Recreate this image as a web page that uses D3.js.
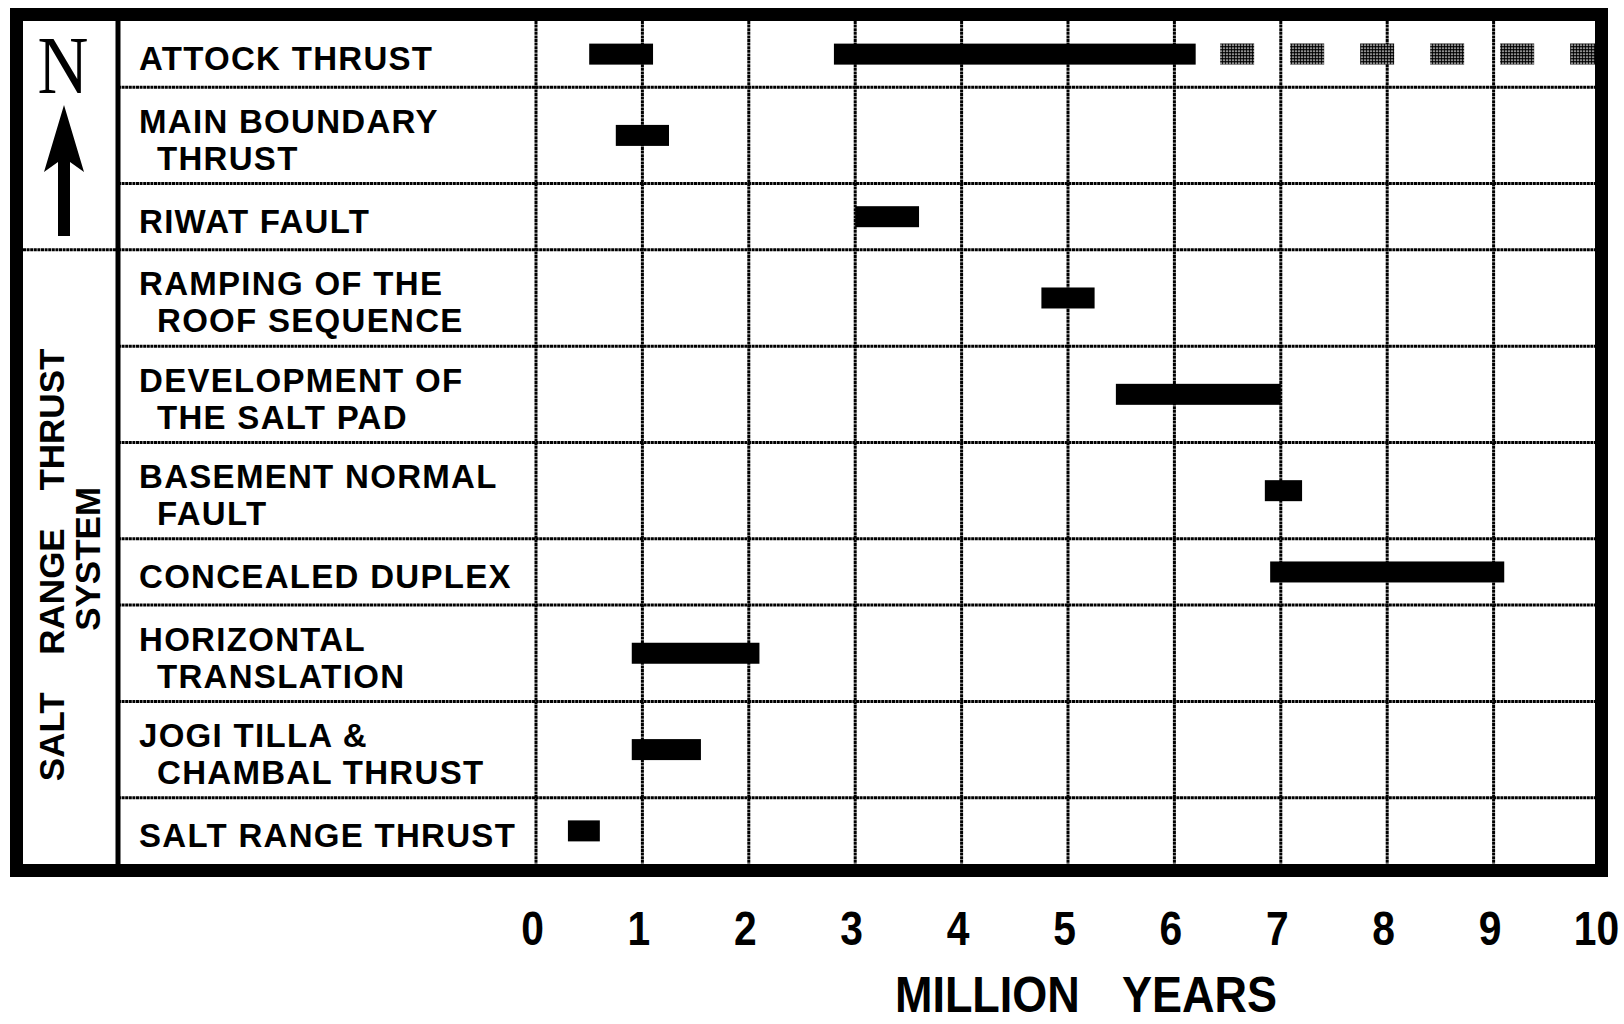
<!DOCTYPE html>
<html>
<head>
<meta charset="utf-8">
<script src="https://cdn.jsdelivr.net/npm/d3@7"></script>
<style>
  body { margin: 0; background: #fff; }
  text { font-family: "Liberation Sans", Arial, sans-serif; font-weight: bold; fill: #000; }
</style>
</head>
<body>
<div id="chart"></div>
<script>
// Fault rows, top to bottom, with the label lines as printed
var faults = ["ATTOCK THRUST", "MAIN BOUNDARY THRUST", "RIWAT FAULT", "RAMPING OF THE ROOF SEQUENCE",
  "DEVELOPMENT OF THE SALT PAD", "BASEMENT NORMAL FAULT", "CONCEALED DUPLEX",
  "HORIZONTAL TRANSLATION", "JOGI TILLA & CHAMBAL THRUST", "SALT RANGE THRUST"];
var faultLines = [["ATTOCK THRUST"], ["MAIN BOUNDARY", "THRUST"], ["RIWAT FAULT"],
  ["RAMPING OF THE", "ROOF SEQUENCE"], ["DEVELOPMENT OF", "THE SALT PAD"],
  ["BASEMENT NORMAL", "FAULT"], ["CONCEALED DUPLEX"], ["HORIZONTAL", "TRANSLATION"],
  ["JOGI TILLA &", "CHAMBAL THRUST"], ["SALT RANGE THRUST"]];

// Periods of activity (million years)
var barFault = ["ATTOCK THRUST", "ATTOCK THRUST", "MAIN BOUNDARY THRUST", "RIWAT FAULT",
  "RAMPING OF THE ROOF SEQUENCE", "DEVELOPMENT OF THE SALT PAD", "BASEMENT NORMAL FAULT",
  "CONCEALED DUPLEX", "HORIZONTAL TRANSLATION", "JOGI TILLA & CHAMBAL THRUST", "SALT RANGE THRUST"];
var barStart = [0.5, 2.8, 0.75, 3.0, 4.75, 5.45, 6.85, 6.9, 0.9, 0.9, 0.3];
var barEnd   = [1.1, 6.2, 1.25, 3.6, 5.25, 7.0, 7.2, 9.1, 2.1, 1.55, 0.6];

// Uncertain (stippled) continuation
var dashFault = ["ATTOCK THRUST"];
var dashStart = [6.43];
var dashEnd   = [10];

var ticks = [0, 1, 2, 3, 4, 5, 6, 7, 8, 9, 10];
var groupLabel = ["SALT RANGE THRUST", "SYSTEM"];
var northRows = 3;   // rows covered by the north-arrow box
var axisTitle = "MILLION YEARS";

drawchart();

function drawchart() {
  var svg = d3.select("#chart")
              .append("svg")
              .attr("width", 1624)
              .attr("height", 1024);

  svg.append("rect").attr("width", 1624).attr("height", 1024).attr("fill", "#fff");

  // stipple texture for the uncertain segment
  var pat = svg.append("defs").append("pattern")
      .attr("id", "stipple")
      .attr("patternUnits", "userSpaceOnUse")
      .attr("width", 3).attr("height", 3);
  pat.append("rect").attr("width", 3).attr("height", 3).attr("fill", "#fff");
  pat.append("circle").attr("cx", 1.5).attr("cy", 1.5).attr("r", 1.5).attr("fill", "#000");

  var frame = {left: 23, top: 21, right: 1595, bottom: 864},
      divider = 118,
      plotLeft = 536, plotRight = 1600;

  // x scale
  var x = d3.scaleLinear().domain([0, 10]).range([plotLeft, plotRight]);

  // row heights follow the number of label lines
  var units = faultLines.map(function(l) { return 36 + 30 * l.length; });
  var cum = [0];
  units.forEach(function(u, i) { cum.push(cum[i] + u); });
  var y = d3.scaleLinear().domain([0, cum[cum.length - 1]]).range([frame.top, frame.bottom]);
  var rowTop = {}, rowMid = {};
  faults.forEach(function(f, i) {
    rowTop[f] = y(cum[i]);
    rowMid[f] = (y(cum[i]) + y(cum[i + 1])) / 2;
  });

  var grid = function(sel) {
    return sel.attr("stroke", "#000").attr("stroke-width", 3).attr("stroke-dasharray", "3,0.6");
  };

  // vertical grid lines
  svg.append("g").selectAll("line")
    .data(ticks)
    .enter().append("line")
      .attr("x1", function(d) { return x(d); })
      .attr("x2", function(d) { return x(d); })
      .attr("y1", frame.top)
      .attr("y2", frame.bottom)
      .call(grid);

  // horizontal row lines
  svg.append("g").selectAll("line")
    .data(faults.slice(1))
    .enter().append("line")
      .attr("x1", divider)
      .attr("x2", plotRight)
      .attr("y1", function(d) { return rowTop[d]; })
      .attr("y2", function(d) { return rowTop[d]; })
      .call(grid);

  // separator in the left column
  svg.append("line")
    .attr("x1", frame.left).attr("x2", divider)
    .attr("y1", rowTop[faults[northRows]]).attr("y2", rowTop[faults[northRows]])
    .call(grid);

  // solid divider between the side column and the labels
  svg.append("line")
    .attr("x1", divider).attr("x2", divider)
    .attr("y1", frame.top).attr("y2", frame.bottom)
    .attr("stroke", "#000").attr("stroke-width", 5);

  // fault labels
  var labels = svg.append("g").selectAll("text")
    .data(faults)
    .enter().append("text")
      .attr("font-size", 33)
      .style("letter-spacing", "1.3px");
  labels.each(function(f, i) {
    var lines = faultLines[i], n = lines.length;
    d3.select(this).selectAll("tspan")
      .data(lines)
      .enter().append("tspan")
        .attr("x", function(d, j) { return j === 0 ? 139 : 157; })
        .attr("y", function(d, j) { return rowMid[f] + (j - (n - 1) / 2) * 37 + 16; })
        .text(function(d) { return d; });
  });

  // stippled continuation
  svg.append("g").selectAll("line")
    .data(dashFault)
    .enter().append("line")
      .attr("x1", function(d, i) { return x(dashStart[i]); })
      .attr("x2", function(d, i) { return x(dashEnd[i]); })
      .attr("y1", function(d) { return rowMid[d]; })
      .attr("y2", function(d) { return rowMid[d]; })
      .attr("stroke", "url(#stipple)")
      .attr("stroke-width", 21)
      .attr("stroke-dasharray", "34,36");

  // bars
  svg.append("g").selectAll("rect")
    .data(barFault)
    .enter().append("rect")
      .attr("x", function(d, i) { return x(barStart[i]); })
      .attr("y", function(d) { return rowMid[d] - 10.5; })
      .attr("width", function(d, i) { return x(barEnd[i]) - x(barStart[i]); })
      .attr("height", 21)
      .attr("fill", "#000");

  // outer frame
  svg.append("rect")
    .attr("x", 16.5).attr("y", 14.5)
    .attr("width", 1601.5 - 16.5).attr("height", 870.5 - 14.5)
    .attr("fill", "none").attr("stroke", "#000").attr("stroke-width", 13);

  // north arrow
  svg.append("text")
    .attr("transform", "translate(63,93) scale(0.86,1)")
    .attr("text-anchor", "middle")
    .style("font-family", "'Liberation Serif', 'Times New Roman', serif")
    .style("font-weight", "normal")
    .attr("font-size", 82)
    .text("N");
  svg.append("path")
    .attr("d", "M64,105 L84,172 L70,162 L70,236 L58,236 L58,162 L44,172 Z")
    .attr("fill", "#000");

  // group label, rotated
  var gMid = (rowTop[faults[northRows]] + frame.bottom) / 2 + 8;
  svg.append("text")
    .attr("transform", "translate(64," + gMid + ") rotate(-90)")
    .attr("text-anchor", "middle")
    .attr("font-size", 35)
    .style("word-spacing", "28px")
    .text(groupLabel[0]);
  svg.append("text")
    .attr("transform", "translate(100," + (gMid - 6) + ") rotate(-90)")
    .attr("text-anchor", "middle")
    .attr("font-size", 35)
    .text(groupLabel[1]);

  // x-axis tick labels
  var axis = svg.append("g")
      .attr("transform", "translate(-4,945)")
      .call(d3.axisBottom(x).tickValues(ticks).tickSize(0).tickPadding(0));
  axis.select(".domain").remove();
  axis.selectAll("text")
      .attr("y", 0)
      .attr("dy", 0)
      .attr("font-size", 48)
      .attr("transform", "scale(0.85,1)")
      .style("font-family", "'Liberation Sans', Arial, sans-serif")
      .style("font-weight", "bold")
      .attr("fill", "#000");

  // axis title
  svg.append("text")
    .attr("transform", "translate(1086,1012) scale(0.9,1)")
    .attr("text-anchor", "middle")
    .attr("font-size", 50)
    .style("word-spacing", "34px")
    .text(axisTitle);
}
</script>
</body>
</html>
